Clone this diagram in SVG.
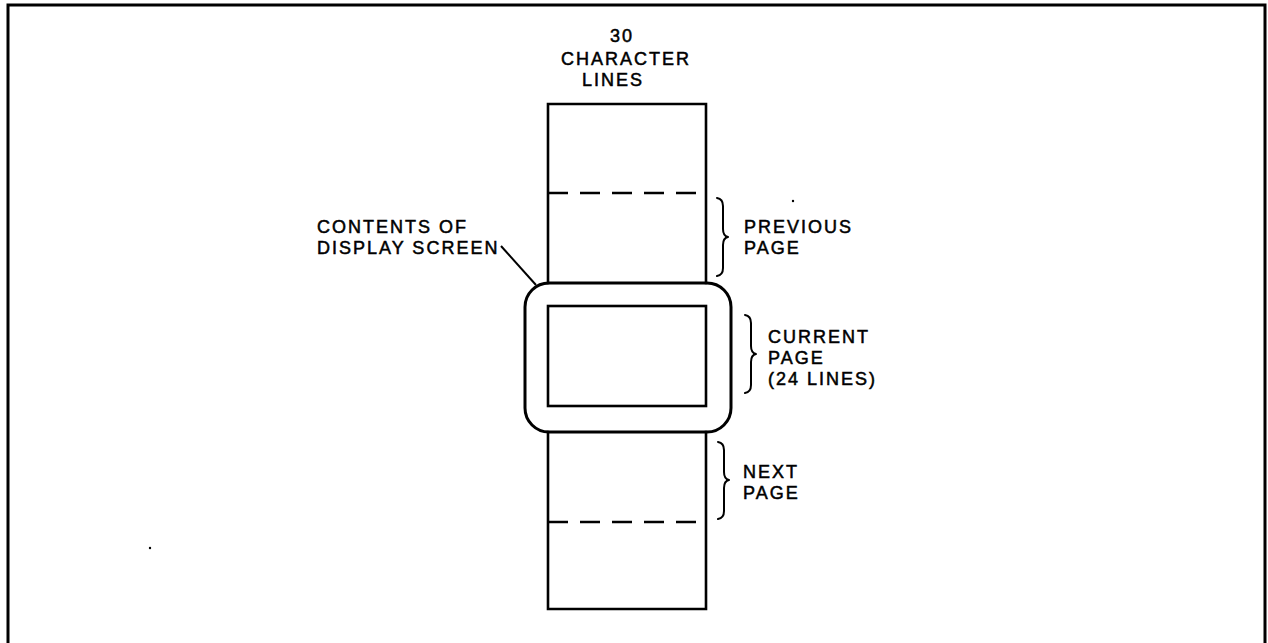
<svg xmlns="http://www.w3.org/2000/svg" width="1268" height="643" viewBox="0 0 1268 643">
  <style>
    .lbl { font-family: "Liberation Sans", Arial, Helvetica, sans-serif; font-size: 18px; letter-spacing: 2px; fill: #000; stroke: #000; stroke-width: 0.5px; }
    .edge { fill: none; stroke: #000; stroke-width: 2.6; stroke-linecap: square; }
    .dash { fill: none; stroke: #000; stroke-width: 2.6; stroke-dasharray: 20 12; }
    .brace { fill: none; stroke: #000; stroke-width: 2; stroke-linecap: round; stroke-linejoin: round; }
    .lead { fill: none; stroke: #000; stroke-width: 2; }
  </style>
  <rect width="1268" height="643" fill="#fff"/>

  <!-- page frame (open at the bottom) -->
  <path d="M8,645 V5 H1265 V645" fill="none" stroke="#000" stroke-width="3"/>

  <!-- column header -->
  <g id="header">
    <text class="lbl" x="622" y="42" text-anchor="middle">30</text>
    <text class="lbl" x="626" y="65" text-anchor="middle">CHARACTER</text>
    <text class="lbl" x="613" y="86" text-anchor="middle">LINES</text>
  </g>

  <!-- buffer column: upper part (above screen) -->
  <g id="buffer-top">
    <path class="edge" d="M548,283 V104 H706 V283"/>
    <line class="dash" x1="548" y1="193" x2="706" y2="193"/>
  </g>

  <!-- buffer column: lower part (below screen) -->
  <g id="buffer-bottom">
    <path class="edge" d="M548,432 V609 H706 V432"/>
    <line class="dash" x1="548" y1="522" x2="706" y2="522"/>
  </g>

  <!-- display screen bezel with current page window -->
  <g id="screen">
    <rect x="525" y="283" width="206" height="149" rx="24" ry="24" fill="none" stroke="#000" stroke-width="3"/>
    <rect x="548" y="306" width="158" height="100" fill="none" stroke="#000" stroke-width="2.6"/>
  </g>

  <!-- screen callout -->
  <g id="screen-label">
    <text class="lbl" x="317" y="233">CONTENTS OF</text>
    <text class="lbl" x="317" y="254">DISPLAY SCREEN</text>
  </g>

  <!-- page braces and labels -->
  <g id="previous-page">
    <path class="brace" d="M717,198 Q723,199 723,206 L723,229 Q723,236 728,237 Q723,238 723,245 L723,268 Q723,275 717,276"/>
    <text class="lbl" x="744" y="233">PREVIOUS</text>
    <text class="lbl" x="744" y="254">PAGE</text>
  </g>

  <g id="current-page">
    <path class="brace" d="M745,315 Q751,316 751,323 L751,346 Q751,353 756,354 Q751,355 751,362 L751,385 Q751,392 745,393"/>
    <text class="lbl" x="768" y="343">CURRENT</text>
    <text class="lbl" x="768" y="364">PAGE</text>
    <text class="lbl" x="768" y="385">(24 LINES)</text>
  </g>

  <g id="next-page">
    <path class="brace" d="M718,442 Q724,443 724,450 L724,472 Q724,479 729,480 Q724,481 724,488 L724,511 Q724,518 718,519"/>
    <text class="lbl" x="743" y="478">NEXT</text>
    <text class="lbl" x="743" y="499">PAGE</text>
  </g>

  <!-- connectors -->
  <g id="connectors">
    <line class="lead" x1="501" y1="246" x2="536" y2="285"/>
  </g>

  <!-- stray specks -->
  <circle cx="793" cy="201" r="1.2" fill="#000"/>
  <circle cx="150" cy="548" r="1.2" fill="#000"/>
</svg>
